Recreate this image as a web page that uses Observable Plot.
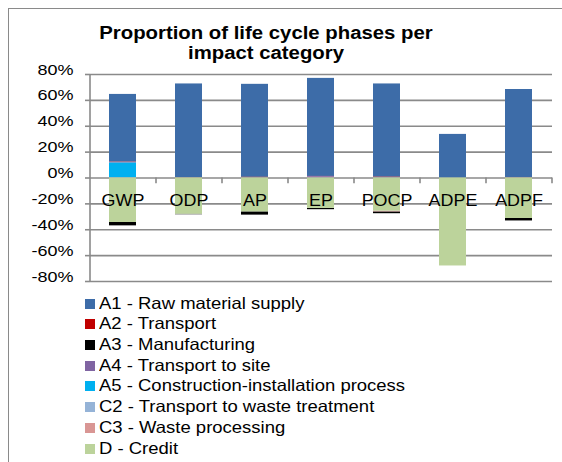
<!DOCTYPE html>
<html>
<head>
<meta charset="utf-8">
<script src="https://cdn.jsdelivr.net/npm/d3@7"></script>
<script src="https://cdn.jsdelivr.net/npm/@observablehq/plot@0.6"></script>
<style>
  html, body { margin: 0; padding: 0; background: #fff; }
  #wrap { position: relative; width: 562px; height: 462px; overflow: hidden; background: #fff;
          font-family: "Liberation Sans", Arial, sans-serif; color: #000; }
  #chart { position: absolute; left: 0; top: 0; }
  #frame { position: absolute; left: 8px; top: 8px; right: -10px; bottom: -10px;
           border-left: 1.5px solid #8a8a8a; border-top: 1.5px solid #8a8a8a; pointer-events: none; }
  .tline { position: absolute; left: 0; width: 532px; text-align: center; white-space: nowrap;
           font-weight: bold; font-size: 18px; line-height: 18px; height: 18px;
           transform: scaleX(1.13); transform-origin: 266px 0; }
  .lrow { position: absolute; left: 0; width: 562px; height: 20.7px; }
  .lsw { position: absolute; left: 85px; top: 6px; width: 10px; height: 10px; }
  .ltx { position: absolute; left: 99px; top: 0; font-size: 16.5px; line-height: 20.7px; white-space: nowrap;
         transform: scaleX(1.12); transform-origin: 0 50%; }
</style>
</head>
<body>
<div id="wrap">
  <div id="chart"></div>
  <div id="frame"></div>
  <div class="tline" style="top:23.5px">Proportion of life cycle phases per</div>
  <div class="tline" style="top:44px">impact category</div>
  <div id="legend"></div>
</div>
<script>
const categories = ["GWP", "ODP", "AP", "EP", "POCP", "ADPE", "ADPF"];
const series = [
  "A1 - Raw material supply",
  "A2 - Transport",
  "A3 - Manufacturing",
  "A4 - Transport to site",
  "A5 - Construction-installation process",
  "C2 - Transport to waste treatment",
  "C3 - Waste processing",
  "D - Credit"
];
const colors = ["#3d6ca8", "#c00000", "#000000", "#8064a2", "#00b0f0", "#95b3d7", "#d99694", "#bcd39b"];

// values in percent, per category
const A1 = [52.3, 72.4, 71.9, 75.8, 72.1, 33.7, 68.0];
const A2 = [0.2, 0.1, 0.2, 0.2, 0.2, 0.0, 0.1];
const A3 = [-2.6, -0.4, -2.5, -1.0, -1.4, 0.0, -1.9];
const A4 = [0.6, 0.1, 0.2, 0.9, 0.3, 0.0, 0.2];
const A5 = [11.3, 0.0, 0.0, 0.0, 0.0, 0.0, 0.0];
const C2 = [0.2, 0.1, 0.1, 0.1, 0.1, 0.0, 0.1];
const C3 = [0.0, 0.0, 0.0, 0.0, -0.6, 0.0, 0.0];
const D  = [-34.4, -28.0, -26.2, -23.5, -25.6, -68.0, -31.3];

const yTicks = [-80, -60, -40, -20, 0, 20, 40, 60, 80];

const seriesValues = [A1, A2, A3, A4, A5, C2, C3, D];
const rows = [];
series.forEach((s, j) => {
  categories.forEach((c, i) => {
    rows.push({category: c, series: s, value: seriesValues[j][i]});
  });
});

const chart = Plot.plot({
  width: 562,
  height: 300,
  marginTop: 74,
  marginBottom: 19,
  marginLeft: 90,
  marginRight: 10,
  style: {background: "transparent", fontFamily: "'Liberation Sans', Arial, sans-serif", fontSize: "15px", color: "#000", overflow: "visible"},
  x: {domain: categories, paddingInner: 0.59, paddingOuter: 0.295, align: 0.5, axis: null},
  y: {domain: [-80, 80], axis: null},
  color: {domain: series, range: colors},
  marks: [
    Plot.ruleY(yTicks, {stroke: "#8a8a8a", strokeWidth: 1.6}),
    Plot.barY(rows, {x: "category", y: "value", fill: "series", order: [...series].reverse()}),
    Plot.ruleX([categories[0]], {dx: -33, y1: () => -80, y2: () => 80, stroke: "#8a8a8a", strokeWidth: 1.6}),
    Plot.ruleX(categories, {dx: 33, y1: () => 0, y2: () => -4.5, stroke: "#8a8a8a", strokeWidth: 1.6}),
    Plot.axisY({ticks: yTicks, tickFormat: d => `${d}%`, tickSize: 5, tickPadding: 12, label: null, stroke: "#8a8a8a", strokeWidth: 1.6, fontSize: 15, fill: "#000"}),
    Plot.text(categories, {x: d => d, y: () => 0, dy: 28, lineAnchor: "bottom", fontSize: 16, fill: "#000"})
  ]
});
document.getElementById("chart").appendChild(chart);

function stretch(el, k) {
  const t = el.getAttribute("transform") || "";
  const x = +el.getAttribute("x") || 0;
  const y = +el.getAttribute("y") || 0;
  el.removeAttribute("x");
  el.removeAttribute("y");
  el.setAttribute("transform", `${t} translate(${x},${y}) scale(${k},1)`);
}
chart.querySelectorAll('g[aria-label="y-axis tick label"] text').forEach(el => stretch(el, 1.2));
chart.querySelectorAll('g[aria-label="text"] text').forEach(el => stretch(el, 1.12));

const legend = document.getElementById("legend");
series.forEach((s, i) => {
  const row = document.createElement("div");
  row.className = "lrow";
  row.style.top = (292.6 + i * 20.7) + "px";
  const sw = document.createElement("span");
  sw.className = "lsw";
  sw.style.background = colors[i];
  const tx = document.createElement("span");
  tx.className = "ltx";
  tx.textContent = s;
  row.appendChild(sw);
  row.appendChild(tx);
  legend.appendChild(row);
});
</script>
</body>
</html>
